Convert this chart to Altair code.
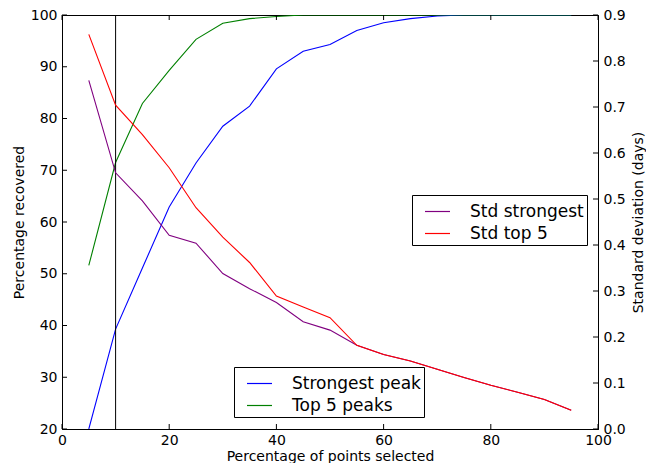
import altair as alt
import pandas as pd

x_vals = [5, 10, 15, 20, 25, 30, 35, 40, 45, 50, 55, 60, 65, 70, 75, 80, 85, 90, 95]
strongest = [20, 39.3, 51.1, 62.9, 71.4, 78.5, 82.4, 89.6, 93.0, 94.3, 97.0, 98.5, 99.3, 99.8, 100, 100, 100, 100, 100]
top5 = [51.6, 71.5, 82.9, 89.3, 95.3, 98.4, 99.3, 99.7, 100, 100, 100, 100, 100, 100, 100, 100, 100, 100, 100]
std_strongest = [0.758, 0.557, 0.496, 0.421, 0.404, 0.338, 0.305, 0.275, 0.233, 0.215, 0.182, 0.162, 0.148, 0.130, 0.112, 0.095, 0.080, 0.064, 0.041]
std_top5 = [0.858, 0.704, 0.640, 0.568, 0.481, 0.417, 0.362, 0.289, 0.265, 0.242, 0.182, 0.162, 0.148, 0.130, 0.112, 0.095, 0.080, 0.064, 0.041]

x_ticks = [0, 20, 40, 60, 80, 100]
left_ticks = [20, 30, 40, 50, 60, 70, 80, 90, 100]
right_ticks = [0.0, 0.1, 0.2, 0.3, 0.4, 0.5, 0.6, 0.7, 0.8, 0.9]
vline_x = [10]

W, H = 536, 414
FONT = "DejaVu Sans"
TL = 5

left_df = pd.DataFrame(
    {"x": x_vals * 2,
     "v": strongest + top5,
     "s": ["Strongest peak"] * len(x_vals) + ["Top 5 peaks"] * len(x_vals)}
)
right_df = pd.DataFrame(
    {"x": x_vals * 2,
     "v": std_strongest + std_top5,
     "s": ["Std strongest"] * len(x_vals) + ["Std top 5"] * len(x_vals)}
)

xscale = alt.Scale(domain=[0, 100], nice=False)
xaxis = alt.Axis(values=x_ticks, ticks=False, grid=False, title="Percentage of points selected",
                 labelPadding=4, titlePadding=2, labelFlush=False)
lscale = alt.Scale(domain=[20, 100], nice=False)
rscale = alt.Scale(domain=[0, 0.9], nice=False)

left_lines = alt.Chart(left_df).mark_line(strokeWidth=1.1, clip=True).encode(
    x=alt.X("x:Q", scale=xscale, axis=xaxis),
    y=alt.Y("v:Q", scale=lscale,
            axis=alt.Axis(values=left_ticks, ticks=False, grid=False, title="Percentage recovered",
                          labelPadding=5, titlePadding=4, orient="left", labelFlush=False)),
    color=alt.Color("s:N",
                    scale=alt.Scale(domain=["Strongest peak", "Top 5 peaks"], range=["#0000ff", "#008000"]),
                    legend=alt.Legend(title=None, orient="none", legendX=172, legendY=352)),
)

vline = alt.Chart(pd.DataFrame({"x": vline_x})).mark_rule(color="black", strokeWidth=1).encode(
    x=alt.X("x:Q", scale=xscale)
)

xt_df = pd.DataFrame({"x": x_ticks})
xt_bottom = alt.Chart(xt_df).mark_rule(color="black", strokeWidth=1).encode(
    x=alt.X("x:Q", scale=xscale), y=alt.value(H), y2=alt.value(H - TL))
xt_top = alt.Chart(xt_df).mark_rule(color="black", strokeWidth=1).encode(
    x=alt.X("x:Q", scale=xscale), y=alt.value(0), y2=alt.value(TL))

lt = alt.Chart(pd.DataFrame({"v": left_ticks})).mark_rule(color="black", strokeWidth=1).encode(
    y=alt.Y("v:Q", scale=lscale), x=alt.value(0), x2=alt.value(TL))

left = alt.layer(left_lines, vline, xt_bottom, xt_top, lt)

right_lines = alt.Chart(right_df).mark_line(strokeWidth=1.1, clip=True).encode(
    x=alt.X("x:Q", scale=xscale),
    y=alt.Y("v:Q", scale=rscale,
            axis=alt.Axis(values=right_ticks, format=".1f", ticks=False, grid=False,
                          title="Standard deviation (days)", orient="right", labelFlush=False,
                          titleAngle=270, titleBaseline="top", labelPadding=5, titlePadding=6)),
    color=alt.Color("s:N",
                    scale=alt.Scale(domain=["Std strongest", "Std top 5"], range=["#800080", "#ff0000"]),
                    legend=alt.Legend(title=None, orient="none", legendX=350, legendY=180)),
)
rt = alt.Chart(pd.DataFrame({"v": right_ticks})).mark_rule(color="black", strokeWidth=1).encode(
    y=alt.Y("v:Q", scale=rscale), x=alt.value(W - TL), x2=alt.value(W))

right = alt.layer(right_lines, rt)

chart = alt.layer(left, right).resolve_scale(y="independent", color="independent").properties(
    width=W, height=H, background="white",
    padding={"left": 4, "top": 0, "right": 0, "bottom": 0}
).configure_view(stroke="black", strokeWidth=1).configure_axis(
    labelFont=FONT, titleFont=FONT, labelFontSize=14, titleFontSize=14, labelColor="black",
    titleColor="black", titleFontWeight="normal", domainColor="black", domainWidth=1
).configure_legend(
    labelFont=FONT, labelFontSize=17, labelColor="black", symbolType="stroke", symbolStrokeWidth=1.2,
    symbolSize=625, strokeColor="black", fillColor="white", padding=3, rowPadding=0,
    symbolOffset=9, labelOffset=19, cornerRadius=0
)

chart.save("out.html", embed_options={"renderer": "svg", "actions": False})
